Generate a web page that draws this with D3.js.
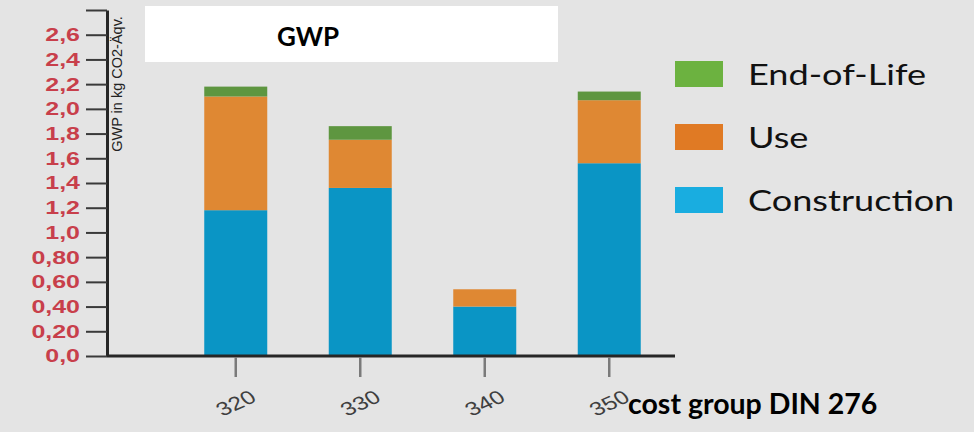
<!DOCTYPE html>
<html>
<head>
<meta charset="utf-8">
<script src="https://cdn.jsdelivr.net/npm/d3@7/dist/d3.min.js"></script>
<style>
  html, body { margin: 0; padding: 0; background: #e4e4e4; }
  svg { display: block; }
</style>
</head>
<body>
<svg id="chart" width="974" height="432"></svg>
<script>
// Cost groups (DIN 276) and GWP per life-cycle phase, kg CO2-eq.
const categories   = ["320", "330", "340", "350"];
const construction = [1.18, 1.36, 0.40, 1.56];
const use          = [0.92, 0.39, 0.14, 0.51];
const endOfLife    = [0.08, 0.11, 0.00, 0.07];

const seriesNames  = ["Construction", "Use", "End-of-Life"];
const legendOrder  = ["End-of-Life", "Use", "Construction"];
const yTickValues  = [0, 0.2, 0.4, 0.6, 0.8, 1.0, 1.2, 1.4, 1.6, 1.8, 2.0, 2.2, 2.4, 2.6, 2.8];
const yTickLabels  = ["0,0", "0,20", "0,40", "0,60", "0,80", "1,0", "1,2", "1,4", "1,6", "1,8", "2,0", "2,2", "2,4", "2,6", ""];

const barColors    = { "Construction": "#0a95c5", "Use": "#df8833", "End-of-Life": "#5e9640" };
const legendColors = { "Construction": "#19ade0", "Use": "#e07a24", "End-of-Life": "#6cb240" };

const svg = d3.select("#chart");

// background
svg.append("rect").attr("width", 974).attr("height", 432).attr("fill", "#e4e4e4");

// title box
svg.append("rect").attr("x", 145).attr("y", 6).attr("width", 413).attr("height", 56).attr("fill", "#ffffff");
svg.append("text")
  .attr("x", 277).attr("y", 46)
  .attr("font-family", "Lato, sans-serif").attr("font-weight", "bold").attr("font-size", 26)
  .attr("fill", "#000").text("GWP");

// scales
const y = d3.scaleLinear().domain([0, 2.8]).range([356, 10]);
const x = d3.scaleBand().domain(categories).range([142, 703]).paddingInner(0.494).paddingOuter(0.5);

// stacked data
const rows = categories.map((c, i) => ({
  cat: c,
  "Construction": construction[i],
  "Use": use[i],
  "End-of-Life": endOfLife[i]
}));
const stacked = d3.stack().keys(seriesNames)(rows);

svg.append("g")
  .selectAll("g")
  .data(stacked)
  .join("g")
  .attr("fill", d => barColors[d.key])
  .selectAll("rect")
  .data(d => d.filter(s => s[1] - s[0] > 0))
  .join("rect")
  .attr("x", d => x(d.data.cat))
  .attr("width", x.bandwidth())
  .attr("y", d => y(d[1]))
  .attr("height", d => y(d[0]) - y(d[1]));

// y axis
const yAxis = svg.append("g")
  .attr("transform", "translate(107,0)")
  .call(d3.axisLeft(y)
    .tickValues(yTickValues)
    .tickFormat((d, i) => yTickLabels[i])
    .tickSize(21)
    .tickSizeOuter(0));
yAxis.select(".domain").attr("stroke", "#262626").attr("stroke-width", 3);
yAxis.selectAll(".tick line").attr("stroke", "#3a3a3a").attr("stroke-width", 2);
yAxis.selectAll(".tick text")
  .attr("x", -27 / 1.35)
  .attr("transform", "scale(1.35,1)")
  .attr("font-family", "'Liberation Sans', Arial, sans-serif")
  .attr("font-size", 18.5)
  .attr("font-weight", 600)
  .attr("fill", "#c83f4b");

// y axis title
svg.append("text")
  .attr("transform", "translate(122,84) rotate(-90)")
  .attr("text-anchor", "middle")
  .attr("font-family", "'Liberation Sans', Arial, sans-serif")
  .attr("font-size", 14.5)
  .attr("fill", "#222")
  .text("GWP in kg CO2-Äqv.");

// x axis
svg.append("line")
  .attr("x1", 107).attr("x2", 675).attr("y1", y(0)).attr("y2", y(0))
  .attr("stroke", "#262626").attr("stroke-width", 3);

const xAxis = svg.append("g")
  .attr("transform", `translate(0,${y(0) + 1})`)
  .call(d3.axisBottom(x).tickSize(20).tickSizeOuter(0));
xAxis.select(".domain").remove();
xAxis.selectAll(".tick line").attr("stroke", "#7a7a7a").attr("stroke-width", 2.5);
xAxis.selectAll(".tick text")
  .attr("x", 0).attr("y", 0).attr("dy", "0.35em")
  .attr("text-anchor", "middle")
  .attr("transform", "translate(0,46) scale(1.3,1) rotate(-30)")
  .attr("font-family", "'Liberation Sans', Arial, sans-serif")
  .attr("font-size", 19)
  .attr("fill", "#3f3f3f");

// x axis title
svg.append("text")
  .attr("x", 628).attr("y", 414)
  .attr("font-family", "Lato, sans-serif").attr("font-weight", "bold").attr("font-size", 28.5)
  .attr("fill", "#000").text("cost group DIN 276");

// legend
const legend = svg.append("g")
  .selectAll("g")
  .data(legendOrder)
  .join("g")
  .attr("transform", (d, i) => `translate(675,${61 + i * 63})`);
legend.append("rect")
  .attr("width", 48).attr("height", 26)
  .attr("fill", d => legendColors[d]);
legend.append("text")
  .attr("x", 73 / 1.29).attr("y", 24)
  .attr("transform", "scale(1.29,1)")
  .attr("font-family", "Lato, sans-serif").attr("font-size", 28)
  .attr("fill", "#111")
  .text(d => d);
</script>
</body>
</html>
